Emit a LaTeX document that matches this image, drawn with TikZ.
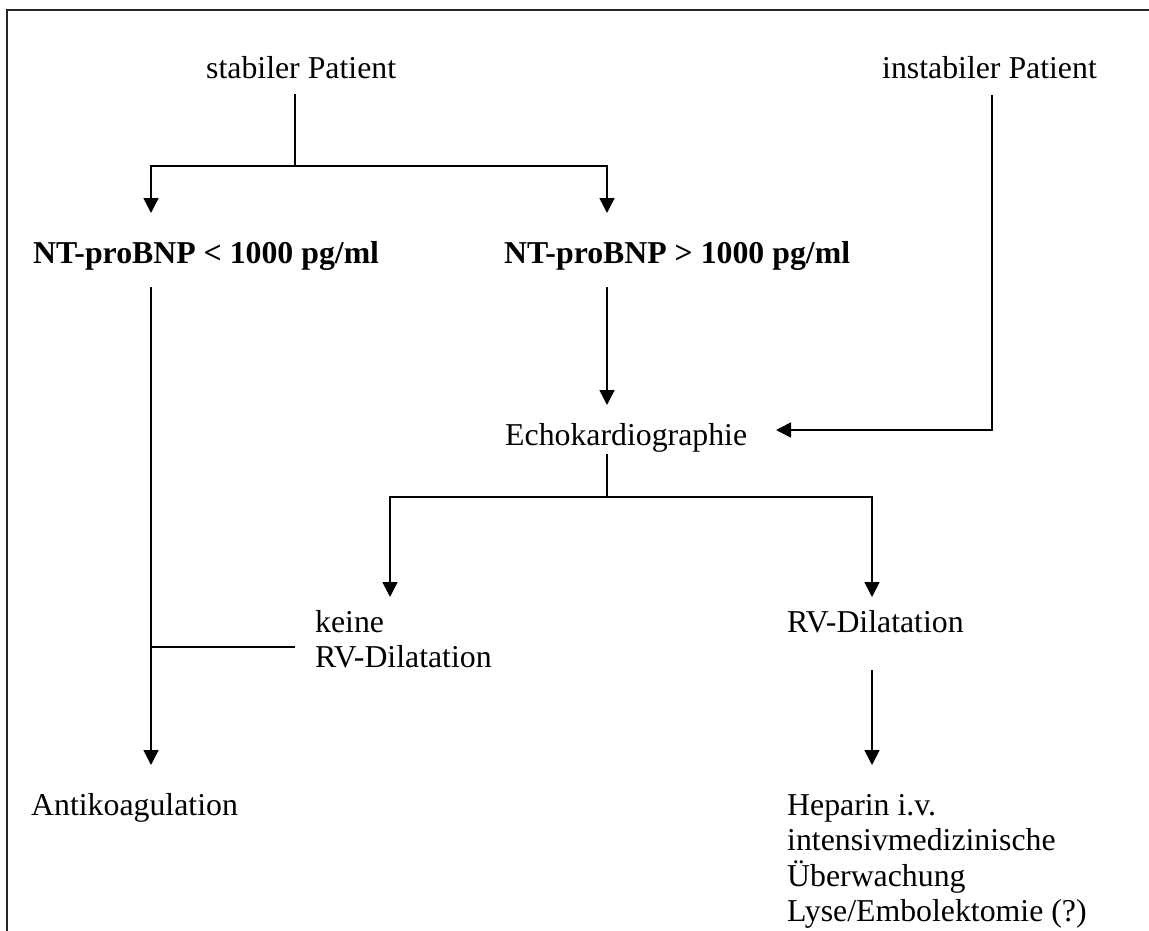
\documentclass[tikz,border=0pt]{standalone}
\usepackage{fontspec}
\setmainfont{Liberation Serif}
\usetikzlibrary{arrows.meta}
\newcommand\flowfont{\fontsize{31.8}{35.5}\selectfont}
\tikzset{
  lbl/.style={anchor=base west, inner sep=0pt, align=left, font=\flowfont},
  conn/.style={line width=1.7pt},
  arr/.style={conn, -{Triangle[width=15pt,length=15pt]}},
  frame/.style={line width=2pt, draw=black!85},
}
\begin{document}
\begin{tikzpicture}[x=1pt, y=-1pt]
\useasboundingbox (0,0) rectangle (1149,931);
\fill[white] (0,0) rectangle (1149,931);

% open frame round the chart
\draw[frame] (1160,10) -- (7,10) -- (7,945);

% texts (multi-line nodes sit on the baseline of their last line)
\node[lbl] (stab)   at (206,79)  {stabiler Patient};
\node[lbl] (instab) at (882,79)  {instabiler Patient};
\node[lbl, font=\flowfont\bfseries] (low)  at (33,263)  {NT-proBNP < 1000 pg/ml};
\node[lbl, font=\flowfont\bfseries] (high) at (504,263) {NT-proBNP > 1000 pg/ml};
\node[lbl] (echo)   at (505,445) {Echokardiographie};
\node[lbl] (keine)  at (315,667.5) {keine\\RV-Dilatation};
\node[lbl] (rvd)    at (787,632) {RV-Dilatation};
\node[lbl] (anti)   at (31,815)  {Antikoagulation};
\node[lbl] (hep)    at (787,921.5) {Heparin i.v.\\intensivmedizinische\\Überwachung\\Lyse/Embolektomie (?)};

% connector end points
\coordinate (s0)    at (295,94);
\coordinate (sj)    at (295,166);
\coordinate (lowin) at (151,213);
\coordinate (higin) at (607,213);
\coordinate (low0)  at (151,287);
\coordinate (antin) at (151,765);
\coordinate (kout)  at (295,647);
\coordinate (kj)    at (151,647);
\coordinate (hig0)  at (607,287);
\coordinate (echin) at (607,405);
\coordinate (ins0)  at (992,95);
\coordinate (insj)  at (992,430);
\coordinate (echr)  at (776,430);
\coordinate (ech0)  at (607,454);
\coordinate (ej)    at (607,497);
\coordinate (keinin) at (390,597);
\coordinate (rvdin) at (872,597);
\coordinate (rvd0)  at (872,670);
\coordinate (hepin) at (872,765);

% stable branch
\draw[conn] (s0) -- (sj);
\draw[arr] (sj) -| (lowin);
\draw[arr] (sj) -| (higin);
\draw[arr] (low0) -- (antin);
\draw[conn] (kout) -- (kj);
\draw[arr] (hig0) -- (echin);

% unstable branch
\draw[arr] (ins0) -- (insj) -- (echr);

% echocardiography outcome
\draw[conn] (ech0) -- (ej);
\draw[arr] (ej) -| (keinin);
\draw[arr] (ej) -| (rvdin);
\draw[arr] (rvd0) -- (hepin);
\end{tikzpicture}
\end{document}
